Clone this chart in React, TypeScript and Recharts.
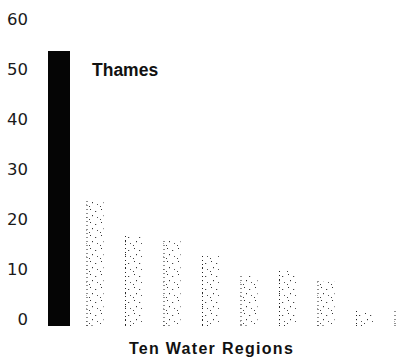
import React from "react";
import { BarChart, Bar, XAxis, YAxis, LabelList } from "recharts";

const regions = [
  "Thames",
  "Region 2",
  "Region 3",
  "Region 4",
  "Region 5",
  "Region 6",
  "Region 7",
  "Region 8",
  "Region 9",
  "Region 10",
];
const values = [55, 25, 18, 17, 14, 10, 11, 9, 3, 3];
const yTicks = [0, 10, 20, 30, 40, 50, 60];
const axisTitle = "Ten Water Regions";
const highlightLabel = "Thames";

const data = regions.map((name, i) => ({ name, value: values[i] }));

const YTick = (props: any) => {
  const { x, y, payload } = props;
  return (
    <text
      x={x}
      y={y - 6.5}
      dy="0.355em"
      textAnchor="end"
      fontFamily="'DejaVu Sans', sans-serif"
      fontSize={16.5}
      fill="#1a1a1a"
    >
      {payload.value}
    </text>
  );
};

const BarShape = (props: any) => {
  const { x, y, width, height, index } = props;
  if (!height || height <= 0) return null;
  if (index === 0) {
    return <rect x={x} y={y} width={width + 5} height={height} fill="#050505" />;
  }
  return (
    <g>
      <rect x={x} y={y} width={width} height={height} fill="url(#stipple)" />
      <line
        x1={x + 0.5}
        y1={y}
        x2={x + 0.5}
        y2={y + height}
        stroke="#222"
        strokeWidth={1}
        strokeDasharray="1 3"
      />
      <line
        x1={x}
        y1={y + height - 0.5}
        x2={x + width * 0.5}
        y2={y + height - 0.5}
        stroke="#333"
        strokeWidth={1}
        strokeDasharray="1 4"
      />
    </g>
  );
};

const ThamesLabel = (props: any) => {
  const { x, y, width, index } = props;
  if (index !== 0) return null;
  return (
    <text
      x={x + width + 5 + 22}
      y={y + 25}
      fontFamily="'Liberation Sans', Arial, sans-serif"
      fontWeight="bold"
      fontSize={17.5}
      fill="#111"
    >
      {highlightLabel}
    </text>
  );
};

const TitleLabel = () => (
  <text
    x={211.5}
    y={353.5}
    textAnchor="middle"
    fontFamily="'Liberation Sans', Arial, sans-serif"
    fontWeight="bold"
    fontSize={16}
    letterSpacing={1.3}
    fill="#111"
  >
    {axisTitle}
  </text>
);

export default function App() {
  return (
    <div
      style={{
        position: "fixed",
        left: 0,
        top: 0,
        width: 397,
        height: 363,
        overflow: "hidden",
        background: "#fff",
      }}
    >
      <BarChart
        width={422}
        height={363}
        data={data}
        margin={{ top: 26, right: 0, bottom: 0, left: 0 }}
        barCategoryGap={0}
      >
        <defs>
          <pattern id="stipple" patternUnits="userSpaceOnUse" width={11} height={13}>
            <rect x={0} y={0} width={11} height={13} fill="#fff" />
            <rect x={2} y={1} width={1} height={1} fill="#333" />
            <rect x={7} y={3} width={1.2} height={1} fill="#444" />
            <rect x={4} y={7} width={1} height={1.2} fill="#333" />
            <rect x={9} y={9} width={1} height={1} fill="#555" />
            <rect x={1} y={11} width={1} height={1} fill="#444" />
          </pattern>
        </defs>
        <XAxis
          dataKey="name"
          height={37}
          axisLine={false}
          tickLine={false}
          tick={false}
          label={<TitleLabel />}
        />
        <YAxis
          domain={[0, 60]}
          ticks={yTicks}
          interval={0}
          width={37}
          axisLine={false}
          tickLine={false}
          tickSize={0}
          tickMargin={9}
          tick={<YTick />}
        />
        <Bar
          dataKey="value"
          barSize={17}
          isAnimationActive={false}
          shape={<BarShape />}
        >
          <LabelList dataKey="value" content={<ThamesLabel />} />
        </Bar>
      </BarChart>
    </div>
  );
}
